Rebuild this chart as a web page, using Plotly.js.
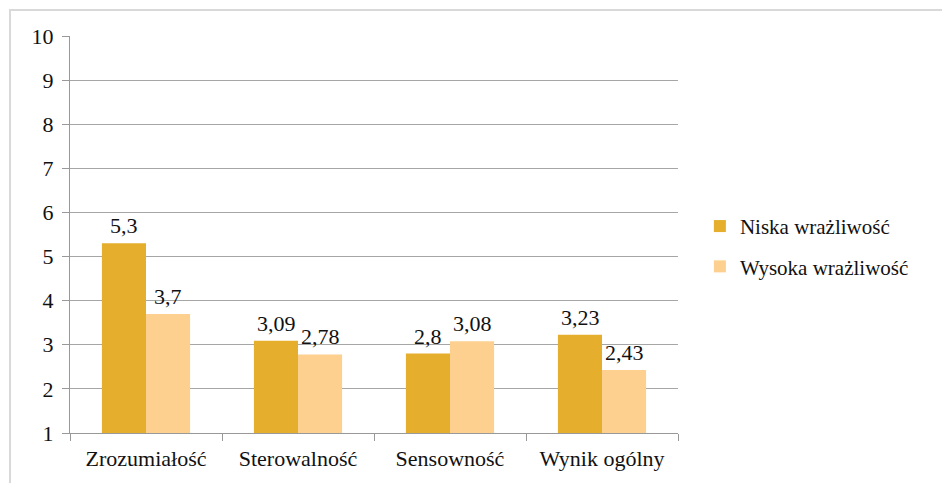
<!DOCTYPE html>
<html>
<head>
<meta charset="utf-8">
<script src="https://cdn.plot.ly/plotly-3.0.1.min.js"></script>
<style>
html,body{margin:0;padding:0;background:#fff;}
#chart{width:942px;height:483px;}
</style>
</head>
<body>
<div id="chart"></div>
<script>
var categories = ["Zrozumiałość", "Sterowalność", "Sensowność", "Wynik ogólny"];
var niskaValues = [5.3, 3.09, 2.8, 3.23];
var wysokaValues = [3.7, 2.78, 3.08, 2.43];
var seriesNames = ["Niska wrażliwość", "Wysoka wrażliwość"];
var yTicks = [1, 2, 3, 4, 5, 6, 7, 8, 9, 10];

function fmt(v) { return String(v).replace('.', ','); }

var FAM = "Liberation Serif";
var TXT = "#111111";
function F(sz) { return {family: FAM, size: sz, color: TXT}; }

var traces = [
  {
    type: "bar", name: seriesNames[0], x: categories, y: niskaValues,
    legendgroup: "a", hoverinfo: "none",
    marker: {color: "#E5AE2C"}
  },
  {
    type: "bar", name: seriesNames[1], x: categories, y: wysokaValues,
    legendgroup: "b", hoverinfo: "none",
    marker: {color: "#FDD08F"}
  }
];

var annotations = [];
categories.forEach(function(c, i) {
  annotations.push({x: c, y: niskaValues[i], xref: "x", yref: "y", text: fmt(niskaValues[i]),
    showarrow: false, xanchor: "center", yanchor: "bottom", xshift: -22, yshift: 3, font: F(22)});
  annotations.push({x: c, y: wysokaValues[i], xref: "x", yref: "y", text: fmt(wysokaValues[i]),
    showarrow: false, xanchor: "center", yanchor: "bottom", xshift: 22, yshift: 3, font: F(22)});
});

var layout = {
  width: 942, height: 483,
  margin: {l: 70, r: 264, t: 36, b: 50},
  font: F(22),
  barmode: "group", bargap: 0.42, bargroupgap: 0,
  showlegend: true,
  legend: {x: 1.036, y: 0.47, yanchor: "middle", xanchor: "left", font: F(21),
           traceorder: "grouped", tracegroupgap: 10},
  xaxis: {
    type: "category", tickson: "boundaries", ticks: "outside", ticklen: 7, tickcolor: "#999",
    showline: true, linecolor: "#999", showgrid: false, tickfont: F(22), ticklabelstandoff: 6
  },
  yaxis: {
    range: [1, 10], tickvals: yTicks, ticks: "outside", ticklen: 7, tickcolor: "#999",
    showline: true, linecolor: "#999", showgrid: true, gridcolor: "#A6A6A6", gridwidth: 1,
    zeroline: false, tickfont: F(22), ticklabelstandoff: 4
  },
  annotations: annotations,
  shapes: [{
    type: "rect", xref: "paper", yref: "paper",
    x0: -60/608, x1: 1.5, y0: -0.2, y1: 1 + 26/397,
    line: {color: "#D9D9D9", width: 2}, fillcolor: "rgba(0,0,0,0)", layer: "below"
  }]
};

Plotly.newPlot("chart", traces, layout, {displayModeBar: false, staticPlot: true});
</script>
</body>
</html>
